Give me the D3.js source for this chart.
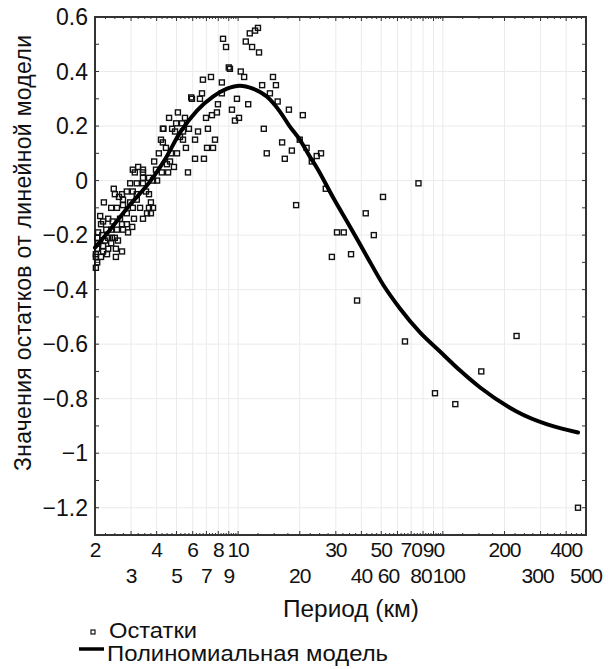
<!DOCTYPE html>
<html>
<head>
<meta charset="utf-8">
<script src="https://cdn.jsdelivr.net/npm/d3@7"></script>
<style>
  body { margin: 0; background: #fff; }
</style>
</head>
<body>
<div class="chart"></div>
<script>
// frame
let FRAME_WIDTH = 608;
let FRAME_HEIGHT = 669;
let MARGINS = {left: 95, right: 22, top: 17, bottom: 134};
const FONT = "'Liberation Sans', 'DejaVu Sans', sans-serif";

// residuals (period km, residual value)
const residPeriod = [65.3, 229, 154, 91.5, 115, 457, 76, 51, 42, 46, 30.4, 32.8, 28.7, 35.6, 38.1, 26.8, 19.2,
  25.4, 24.2, 22.9, 21.6, 20.0, 16.9, 18.3, 13.8, 16.4, 13.35, 20.7, 17.7, 15.6, 14.3, 15.3, 14.8, 13.1,
  12.5, 12.1, 11.4, 10.9, 11.7, 12.65, 8.44, 8.73, 9.12, 9.0, 10.3, 10.7, 8.33, 8.33, 9.87, 11.2, 9.33,
  9.65, 10.1, 7.37, 6.73, 6.66, 5.95, 5.9, 6.51, 7.97, 7.88, 7.45, 6.97, 7.12, 5.08, 5.50, 4.60, 4.98,
  5.32, 4.29, 4.32, 4.76, 4.92, 5.38, 5.75, 5.20, 6.37, 6.16, 4.20, 4.29, 5.38, 5.56, 4.44, 7.71, 7.54,
  7.05, 4.10, 5.03, 6.16, 6.81, 3.89, 4.65, 4.49, 4.86, 3.97, 4.24, 4.55, 5.69, 3.84, 4.02, 4.70, 3.06,
  3.25, 3.43, 3.13, 3.43, 3.43, 3.67, 2.97, 3.20, 3.43, 2.47, 2.86, 3.06, 3.20, 3.55, 3.67, 2.50, 2.62,
  2.71, 2.74, 2.97, 3.20, 3.75, 3.84, 2.21, 2.40, 2.56, 2.74, 3.06, 3.32, 3.67, 3.75, 3.59, 3.43, 3.10,
  2.86, 2.65, 2.12, 2.19, 2.32, 2.44, 2.71, 2.86, 3.04, 2.14, 2.27, 2.40, 2.56, 2.74, 2.90, 2.07, 2.17,
  2.32, 2.42, 2.50, 2.05, 2.24, 2.40, 2.59, 2.07, 2.19, 2.32, 2.05, 2.53, 2.02, 2.19, 2.29, 2.53, 2.71,
  2.02, 2.14, 2.05, 2.02];
const residValue = [-0.59, -0.57, -0.70, -0.78, -0.82, -1.20, -0.01, -0.06, -0.12, -0.20, -0.19, -0.19, -0.28, -0.27, -0.44, -0.03, -0.09,
  0.10, 0.09, 0.07, 0.12, 0.15, 0.08, 0.11, 0.10, 0.14, 0.19, 0.24, 0.26, 0.29, 0.32, 0.35, 0.38, 0.35,
  0.56, 0.55, 0.54, 0.51, 0.49, 0.47, 0.52, 0.49, 0.41, 0.415, 0.40, 0.38, 0.36, 0.32, 0.30, 0.28, 0.26,
  0.22, 0.23, 0.38, 0.37, 0.32, 0.30, 0.305, 0.30, 0.28, 0.25, 0.24, 0.23, 0.19, 0.25, 0.23, 0.23, 0.21,
  0.21, 0.19, 0.19, 0.19, 0.18, 0.18, 0.19, 0.16, 0.18, 0.15, 0.15, 0.14, 0.15, 0.12, 0.12, 0.15, 0.12,
  0.12, 0.10, 0.10, 0.08, 0.08, 0.07, 0.07, 0.06, 0.05, 0.04, 0.03, 0.03, 0.03, 0.00, 0.00, 0.10, 0.04,
  0.05, 0.04, 0.03, 0.03, 0.01, 0.01, -0.01, -0.01, -0.01, -0.03, -0.04, -0.04, -0.05, -0.04, -0.05, -0.05, -0.06,
  -0.05, -0.07, -0.08, -0.07, -0.08, -0.10, -0.08, -0.10, -0.10, -0.09, -0.10, -0.10, -0.10, -0.12, -0.12, -0.14, -0.14,
  -0.12, -0.14, -0.13, -0.15, -0.14, -0.15, -0.16, -0.16, -0.17, -0.16, -0.18, -0.18, -0.18, -0.18, -0.19, -0.19, -0.20,
  -0.21, -0.21, -0.21, -0.21, -0.22, -0.23, -0.22, -0.23, -0.24, -0.25, -0.25, -0.25, -0.27, -0.26, -0.27, -0.28, -0.26,
  -0.28, -0.28, -0.30, -0.32];

// polynomial model curve
const modelPeriod = [2.0, 2.37, 2.97, 3.71, 4.39, 5.20, 6.30, 7.54, 8.83, 10.2, 11.8, 13.8, 16.0, 17.9, 20.0,
  22.4, 24.2, 29.1, 35.2, 42.6, 51.0, 61.7, 77.3, 96.8, 121, 152, 229, 457];
const modelValue = [-0.246, -0.180, -0.088, -0.004, 0.077, 0.176, 0.257, 0.308, 0.337, 0.348, 0.337, 0.308, 0.253, 0.198, 0.150,
  0.088, 0.048, -0.062, -0.169, -0.279, -0.381, -0.469, -0.557, -0.627, -0.696, -0.759, -0.847, -0.924];

// tick labels
const xLabelsTop = [2, 4, 6, 8, 10, 30, 50, 70, 90, 200, 400];
const xLabelsBottom = [3, 5, 7, 9, 20, 40, 60, 80, 100, 300, 500];
const xGrid = [2, 3, 4, 5, 6, 7, 8, 9, 10, 20, 30, 40, 50, 60, 70, 80, 90, 100, 200, 300, 400, 500];
const yTicks = [0.6, 0.4, 0.2, 0, -0.2, -0.4, -0.6, -0.8, -1, -1.2];
// small nudges of crowded labels, as in the original layout
const labelNudge = {60: -9, 80: -2, 100: 6, 300: -3};

const PLOT_W = FRAME_WIDTH - MARGINS.left - MARGINS.right;
const PLOT_H = FRAME_HEIGHT - MARGINS.top - MARGINS.bottom;

let svg = d3.select(".chart").append("svg")
  .attr("width", FRAME_WIDTH)
  .attr("height", FRAME_HEIGHT)
  .attr("font-family", FONT);

const xScale = d3.scaleLog().domain([2, 500]).range([MARGINS.left, MARGINS.left + PLOT_W]);
const yScale = d3.scaleLinear().domain([-1.3, 0.6]).range([MARGINS.top + PLOT_H, MARGINS.top]);

const plotTop = MARGINS.top, plotBottom = MARGINS.top + PLOT_H;
const plotLeft = MARGINS.left, plotRight = MARGINS.left + PLOT_W;

// grid
svg.append("g").selectAll("line").data(xGrid).enter().append("line")
  .attr("x1", d => xScale(d)).attr("x2", d => xScale(d))
  .attr("y1", plotTop).attr("y2", plotBottom)
  .attr("stroke", "#ebebeb").attr("stroke-width", 1);
svg.append("g").selectAll("line").data(yTicks).enter().append("line")
  .attr("x1", plotLeft).attr("x2", plotRight)
  .attr("y1", d => yScale(d)).attr("y2", d => yScale(d))
  .attr("stroke", "#ebebeb").attr("stroke-width", 1);

// minor x ticks: 0.25 steps to 10, 2.5 to 100, 25 to 500
let xMinor = d3.range(2, 10, 0.25).concat(d3.range(10, 100, 2.5), d3.range(100, 501, 25));
xMinor = xMinor.filter(d => xGrid.indexOf(d) < 0);
let yMinor = d3.range(-13, 7, 1).map(d => d / 10);

let ticks = svg.append("g").attr("stroke", "#333");
function vTicks(data, len) {
  data.forEach(d => {
    let x = xScale(d);
    ticks.append("line").attr("x1", x).attr("x2", x).attr("y1", plotBottom).attr("y2", plotBottom - len).attr("stroke-width", 1);
    ticks.append("line").attr("x1", x).attr("x2", x).attr("y1", plotTop).attr("y2", plotTop + len).attr("stroke-width", 1);
  });
}
vTicks(xGrid, 4);
vTicks(xMinor, 2);
yMinor.forEach(d => {
  let y = yScale(d);
  let len = 4;
  ticks.append("line").attr("x1", plotLeft).attr("x2", plotLeft + len).attr("y1", y).attr("y2", y).attr("stroke-width", 1);
  ticks.append("line").attr("x1", plotRight).attr("x2", plotRight - len).attr("y1", y).attr("y2", y).attr("stroke-width", 1);
});

// frame
svg.append("rect")
  .attr("x", plotLeft).attr("y", plotTop)
  .attr("width", PLOT_W).attr("height", PLOT_H)
  .attr("fill", "none").attr("stroke", "#333").attr("stroke-width", 2);

// residual points
let pts = residPeriod.map((p, i) => ({p: p, v: residValue[i]}));
svg.append("g").selectAll("rect").data(pts).enter().append("rect")
  .attr("x", d => xScale(d.p) - 2.5)
  .attr("y", d => yScale(d.v) - 2.5)
  .attr("width", 5).attr("height", 5)
  .attr("fill", "none").attr("stroke", "#111").attr("stroke-width", 1.4);

// model line
let model = modelPeriod.map((p, i) => ({p: p, v: modelValue[i]}));
let line = d3.line().x(d => xScale(d.p)).y(d => yScale(d.v)).curve(d3.curveMonotoneX);
svg.append("path").datum(model)
  .attr("d", line)
  .attr("fill", "none").attr("stroke", "#000").attr("stroke-width", 4)
  .attr("stroke-linejoin", "round").attr("stroke-linecap", "round");

// y tick labels
svg.append("g").selectAll("text").data(yTicks).enter().append("text")
  .attr("x", 88).attr("y", d => yScale(d))
  .attr("dy", "0.35em")
  .attr("text-anchor", "end")
  .attr("font-size", "23px").attr("fill", "#111")
  .text(d => d === 0 ? "0" : (d < 0 ? "\u2212" : "") + Math.abs(d));

// x tick labels, two rows
function xLabels(data, y) {
  svg.append("g").selectAll("text").data(data).enter().append("text")
    .attr("x", d => xScale(d) + (labelNudge[d] || 0)).attr("y", y)
    .attr("text-anchor", "middle")
    .attr("font-size", "21px").attr("letter-spacing", "-1px").attr("fill", "#111")
    .text(d => d);
}
xLabels(xLabelsTop, 557);
xLabels(xLabelsBottom, 583);

// axis titles
svg.append("text")
  .attr("x", 351).attr("y", 617)
  .attr("text-anchor", "middle").attr("font-size", "23px").attr("fill", "#111")
  .attr("textLength", 136).attr("lengthAdjust", "spacingAndGlyphs")
  .text("Период (км)");
svg.append("text")
  .attr("transform", "translate(31,253) rotate(-90)")
  .attr("text-anchor", "middle").attr("font-size", "23px").attr("fill", "#111")
  .attr("textLength", 436).attr("lengthAdjust", "spacing")
  .text("Значения остатков от линейной модели");

// legend
svg.append("rect")
  .attr("x", 91).attr("y", 630).attr("width", 4).attr("height", 4)
  .attr("fill", "none").attr("stroke", "#111").attr("stroke-width", 1.2);
svg.append("text").attr("x", 109).attr("y", 638)
  .attr("font-size", "22px").attr("fill", "#111")
  .attr("textLength", 88).attr("lengthAdjust", "spacingAndGlyphs")
  .text("Остатки");
svg.append("line")
  .attr("x1", 79).attr("x2", 104).attr("y1", 649).attr("y2", 649)
  .attr("stroke", "#000").attr("stroke-width", 3.5);
svg.append("text").attr("x", 107).attr("y", 661)
  .attr("font-size", "22px").attr("fill", "#111")
  .attr("textLength", 281).attr("lengthAdjust", "spacingAndGlyphs")
  .text("Полиномиальная модель");
</script>
</body>
</html>
